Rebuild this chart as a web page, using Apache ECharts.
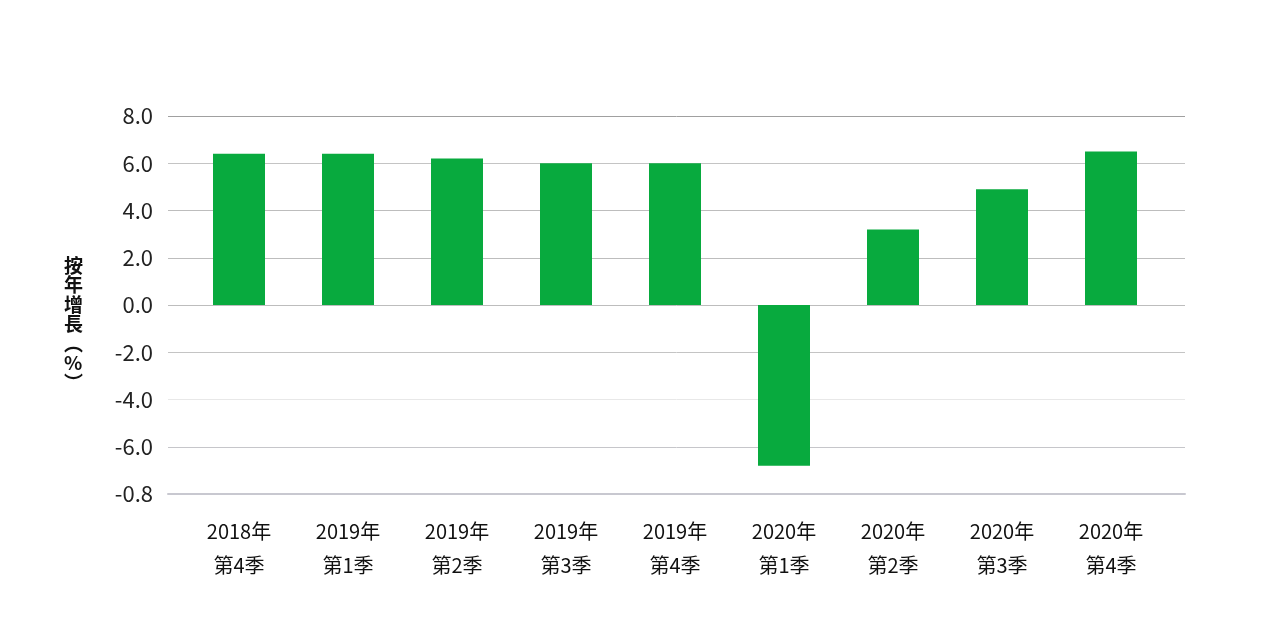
<!DOCTYPE html>
<html>
<head>
<meta charset="utf-8">
<script src="https://cdn.jsdelivr.net/npm/echarts@6/dist/echarts.min.js"></script>
<style>html,body{margin:0;padding:0;background:#fff}#c{width:1280px;height:620px}</style>
</head>
<body>
<div id="c"></div>
<script>
const categories = ["2018年\n第4季","2019年\n第1季","2019年\n第2季","2019年\n第3季","2019年\n第4季","2020年\n第1季","2020年\n第2季","2020年\n第3季","2020年\n第4季"];
const growth = [6.4, 6.4, 6.2, 6.0, 6.0, -6.8, 3.2, 4.9, 6.5];
const tickLabels = ["8.0","6.0","4.0","2.0","0.0","-2.0","-4.0","-6.0","-0.8"];
const yName = "按\n年\n增\n長\n︵\n%\n︶";

const FONT = '"Noto Sans CJK TC", "Noto Sans", sans-serif';
const chart = echarts.init(document.getElementById('c'));
chart.setOption({
  animation: false,
  backgroundColor: '#fff',
  graphic: [{
    type: 'text', left: 64, top: 256,
    style: {text: yName, fill: '#111', font: 'bold 19px ' + FONT, lineHeight: 19.5, align: 'center'}
  }],
  grid: [
    {left: 168, right: 95, top: 116, bottom: 126},
    {left: 184.5, right: 114.5, top: 116, bottom: 126}
  ],
  xAxis: [
    {gridIndex: 0, type: 'value', min: 0, max: 1,
     axisLine: {show: true, onZero: false, lineStyle: {color: '#c8c8d0', width: 2}},
     axisTick: {show: false}, axisLabel: {show: false}, splitLine: {show: false}},
    {gridIndex: 1, type: 'category', data: categories,
     axisLine: {show: false}, axisTick: {show: false},
     axisLabel: {color: '#111', fontFamily: FONT, fontSize: 20, lineHeight: 34, margin: 20, interval: 0}}
  ],
  yAxis: [
    {gridIndex: 0, type: 'value', min: -8, max: 8, interval: 2,
     axisLine: {show: false}, axisTick: {show: false},
     axisLabel: {color: '#222', fontFamily: FONT, fontSize: 22, margin: 15,
       formatter: v => tickLabels[Math.round((8 - v) / 2)]},
     splitLine: {show: true, lineStyle: {width: 1,
       color: ['#c8c8d0','#c6c6ca','#e8e8e8','#c4c4c4','#bdbdbd','#bdbdbd','#bdbdbd','#c4c4c4','#a0a0a0']}}},
    {gridIndex: 1, type: 'value', min: -8, max: 8, interval: 2, show: false, splitLine: {show: false}}
  ],
  series: [{
    type: 'bar', xAxisIndex: 1, yAxisIndex: 1, data: growth,
    barWidth: 52, itemStyle: {color: '#08aa3e'}
  }]
});
</script>
</body>
</html>
